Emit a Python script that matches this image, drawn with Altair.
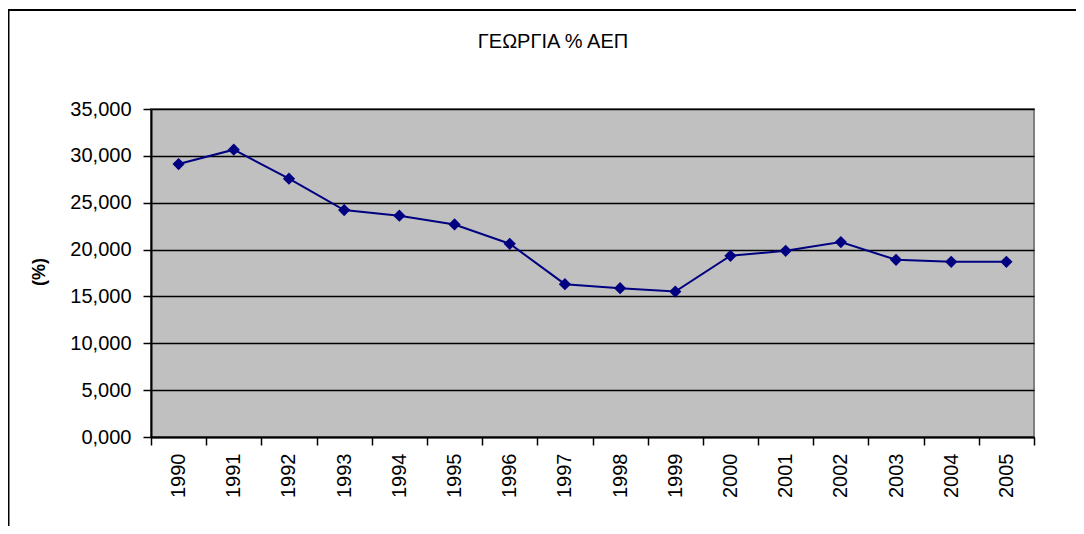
import altair as alt
import pandas as pd

years = ["1990", "1991", "1992", "1993", "1994", "1995", "1996", "1997",
         "1998", "1999", "2000", "2001", "2002", "2003", "2004", "2005"]
values = [29.13, 30.66, 27.56, 24.22, 23.61, 22.68, 20.62, 16.31,
          15.88, 15.52, 19.34, 19.87, 20.80, 18.91, 18.70, 18.70]
y_ticks = [0, 5, 10, 15, 20, 25, 30, 35]
title_text = "ΓΕΩΡΓΙΑ % ΑΕΠ"
y_title = "(%)"

FONT = "Liberation Sans"
NAVY = "#000080"

df = pd.DataFrame({"year": years, "value": values})

x_enc = alt.X(
    "year:O",
    sort=years,
    scale=alt.Scale(type="band", paddingInner=0, paddingOuter=0),
    axis=alt.Axis(
        title=None, labelAngle=270, labelAlign="right", labelBaseline="middle",
        labelFont=FONT, labelFontSize=20, labelColor="black", labelPadding=8,
        tickBand="extent", tickSize=8, tickColor="black", tickWidth=1.5,
        domainColor="black", domainWidth=2, grid=False,
    ),
)
y_enc = alt.Y(
    "value:Q",
    scale=alt.Scale(domain=[0, 35], nice=False, zero=True),
    axis=alt.Axis(
        title=None, values=y_ticks,
        labelExpr="replace(format(datum.value, '.3f'), '.', ',')",
        labelFont=FONT, labelFontSize=20, labelColor="black", labelPadding=12,
        tickSize=8, tickColor="black", tickWidth=1.5,
        domainColor="black", domainWidth=2,
        grid=True, gridColor="black", gridWidth=1.6,
    ),
)

base = alt.Chart(df)
line = base.mark_line(color=NAVY, strokeWidth=2).encode(x=x_enc, y=y_enc)
pts = base.mark_point(shape="diamond", filled=True, size=150, color=NAVY,
                      opacity=1).encode(x=x_enc, y=y_enc)

one = alt.Data(values=[{}])
frame = alt.Chart(one).mark_rect(
    fill="transparent", stroke="black", strokeWidth=2, clip=False
).encode(x=alt.value(-142.5), x2=alt.value(960), y=alt.value(-99), y2=alt.value(480))

title = alt.Chart(one).mark_text(
    text=title_text, font=FONT, fontSize=20, color="black",
    align="center", baseline="middle", clip=False
).encode(x=alt.value(402), y=alt.value(-67))

ytitle = alt.Chart(one).mark_text(
    text=y_title, font=FONT, fontSize=18, fontWeight="bold", color="black",
    angle=270, align="center", baseline="middle", clip=False
).encode(x=alt.value(-111), y=alt.value(163))

chart = alt.layer(frame, title, ytitle, line, pts).properties(
    width=883, height=328,
    autosize=alt.AutoSizeParams(type="none"),
    padding={"left": 143, "top": 101, "right": 42, "bottom": 89},
    background="white",
).configure_view(fill="#C0C0C0", stroke="#808080", strokeWidth=2)

chart.save("out.html", embed_options={"renderer": "svg", "actions": False})
